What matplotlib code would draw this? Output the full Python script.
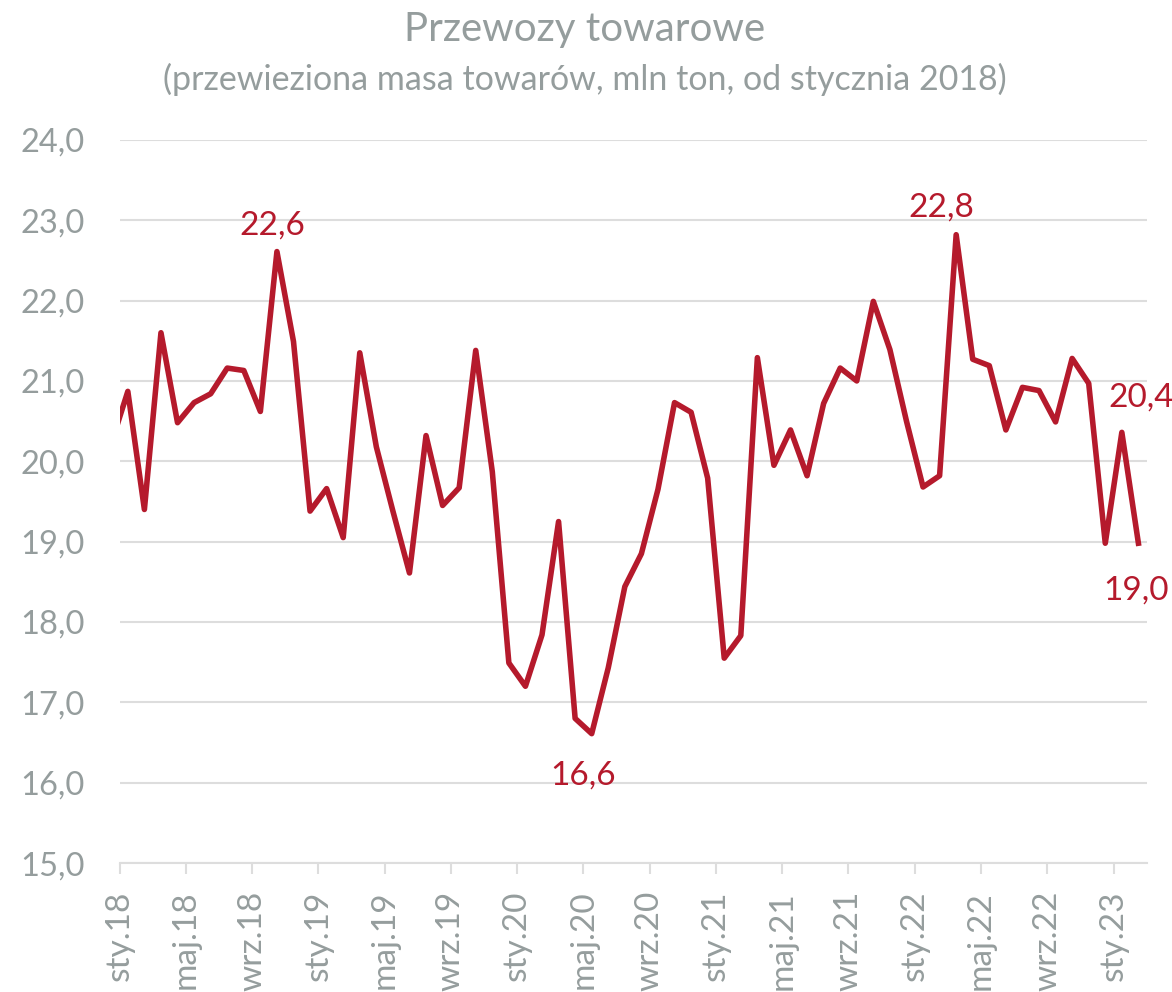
import numpy as np
import matplotlib.pyplot as plt

# miesiące od grudnia 2017 (przycięty punkt) do lutego 2023
values = [20.22,
          20.87, 19.40, 21.60, 20.48, 20.73, 20.84, 21.16, 21.13, 20.62, 22.61, 21.49, 19.38,
          19.66, 19.05, 21.35, 20.18, 19.38, 18.61, 20.32, 19.45, 19.67, 21.38, 19.87, 17.49,
          17.20, 17.84, 19.25, 16.80, 16.61, 17.43, 18.44, 18.85, 19.65, 20.73, 20.61, 19.79,
          17.55, 17.83, 21.29, 19.95, 20.39, 19.82, 20.72, 21.16, 21.00, 21.99, 21.39, 20.50,
          19.68, 19.82, 22.82, 21.27, 21.19, 20.39, 20.92, 20.88, 20.49, 21.28, 20.97, 18.98,
          20.36, 18.98]
tick_labels = ["sty.18", "maj.18", "wrz.18", "sty.19", "maj.19", "wrz.19", "sty.20", "maj.20",
               "wrz.20", "sty.21", "maj.21", "wrz.21", "sty.22", "maj.22", "wrz.22", "sty.23"]
# etykiety wartości: (indeks punktu, tekst, przesunięcie w pt)
annotations = [(10, "22,6", (-3, 19)), (29, "16,6", (-6, -30)), (51, "22,8", (-10.5, 19.5)),
               (61, "20,4", (14, 25)), (62, "19,0", (-2, -34))]

red = "#B51A2C"
gray = "#959D9D"
grid = "#DDDDDD"

plt.rcParams["font.family"] = ["Lato", "DejaVu Sans"]

# punkty w połowie miesiąca, oś od 1 stycznia 2018
x = np.arange(len(values)) - 0.5

fig = plt.figure(figsize=(11.72, 9.92), dpi=100)
ax = fig.add_axes([0.102, 0.130, 0.8764, 0.729])

ax.plot(x, values, color=red, linewidth=4, solid_joinstyle="round")

for i, txt, off in annotations:
    ax.annotate(txt, (x[i], values[i]), xytext=off, textcoords="offset points",
                ha="center", va="center", color=red, fontsize=24, annotation_clip=False)

ax.set_xlim(0, 62)
ax.set_ylim(15, 24)
ax.set_yticks(np.arange(15, 24.5, 1))
ax.set_yticklabels([f"{v:.1f}".replace(".", ",") for v in np.arange(15, 24.5, 1)])
ax.set_xticks(np.arange(0, 61, 4))
ax.set_xticklabels(tick_labels, rotation=90)

ax.grid(axis="y", color=grid, linewidth=1.5)
ax.set_axisbelow(True)
for s in ["top", "right", "left"]:
    ax.spines[s].set_visible(False)
ax.spines["bottom"].set_color(grid)
ax.spines["bottom"].set_linewidth(1.5)
ax.tick_params(axis="y", length=0, pad=25, labelsize=23.5, labelcolor=gray)
ax.tick_params(axis="x", length=8, width=1.5, color=grid, pad=12, labelsize=24, labelcolor=gray)

fig.text(0.499, 0.970, "Przewozy towarowe", ha="center", va="center", fontsize=29, color=gray)
fig.text(0.499, 0.920, "(przewieziona masa towarów, mln ton, od stycznia 2018)",
         ha="center", va="center", fontsize=24.5, color=gray)

fig.savefig("out.png", dpi=100)
